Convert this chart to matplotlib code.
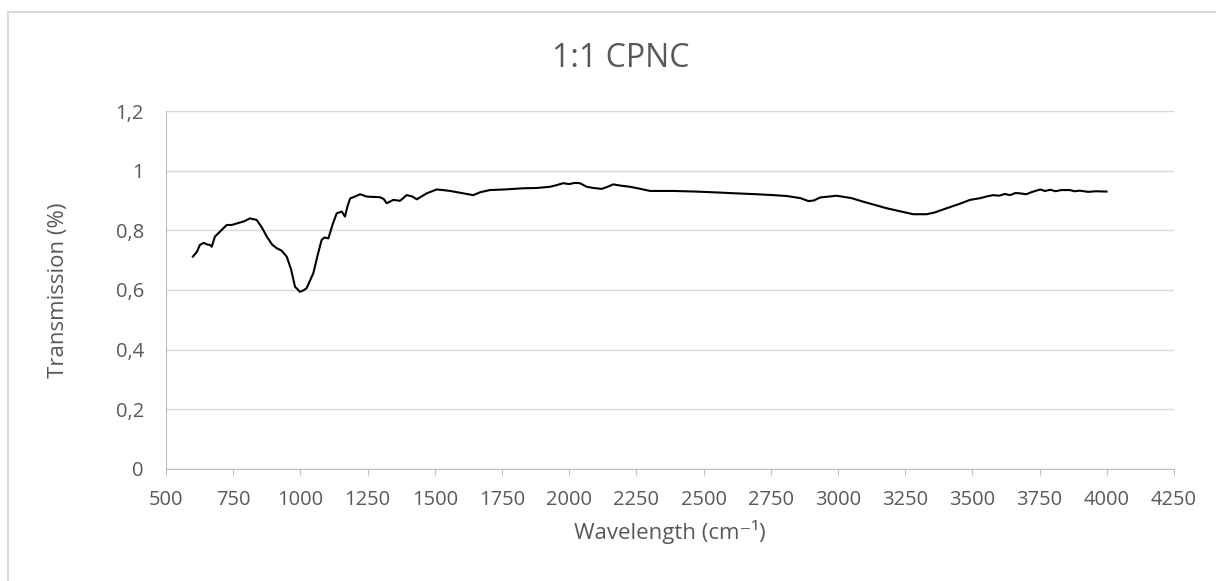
import matplotlib
matplotlib.use("Agg")
import matplotlib.pyplot as plt
from matplotlib.lines import Line2D
from matplotlib.ticker import FuncFormatter

# values
wavenumber = [600, 615, 626, 640, 655, 664, 670, 682, 700, 726, 745, 763, 790, 812, 837,
              855, 875, 895, 912, 930, 949, 965, 980, 998, 1010, 1023, 1035, 1048, 1065,
              1079, 1090, 1104, 1120, 1135, 1154, 1166, 1175, 1185, 1200, 1222, 1247,
              1296, 1310, 1321, 1346, 1371, 1395, 1415, 1433, 1470, 1507, 1530, 1557,
              1594, 1643, 1670, 1705, 1760, 1829, 1880, 1929, 1955, 1978, 2000, 2020,
              2040, 2065, 2090, 2121, 2140, 2164, 2190, 2226, 2260, 2301, 2387, 2470,
              2549, 2620, 2698, 2760, 2809, 2860, 2890, 2910, 2933, 2995, 3050, 3094,
              3181, 3240, 3280, 3330, 3360, 3404, 3450, 3491, 3530, 3555, 3578, 3600,
              3620, 3640, 3660, 3677, 3700, 3720, 3752, 3770, 3790, 3810, 3830, 3863,
              3880, 3900, 3930, 3960, 3999]
transmission = [0.712, 0.728, 0.751, 0.758, 0.752, 0.751, 0.745, 0.779, 0.795, 0.818, 0.818,
                0.823, 0.830, 0.840, 0.835, 0.812, 0.779, 0.752, 0.740, 0.732, 0.712,
                0.670, 0.611, 0.594, 0.598, 0.606, 0.630, 0.656, 0.720, 0.768, 0.776,
                0.773, 0.820, 0.857, 0.863, 0.846, 0.880, 0.907, 0.912, 0.921, 0.913,
                0.911, 0.905, 0.891, 0.902, 0.899, 0.918, 0.914, 0.904, 0.924, 0.937,
                0.935, 0.932, 0.926, 0.918, 0.928, 0.935, 0.937, 0.941, 0.942, 0.946,
                0.952, 0.958, 0.955, 0.959, 0.958, 0.946, 0.942, 0.939, 0.945, 0.954,
                0.950, 0.946, 0.940, 0.932, 0.932, 0.930, 0.927, 0.924, 0.921, 0.918,
                0.915, 0.908, 0.898, 0.900, 0.910, 0.916, 0.908, 0.896, 0.874, 0.862,
                0.854, 0.854, 0.860, 0.874, 0.888, 0.902, 0.908, 0.914, 0.918, 0.916,
                0.922, 0.918, 0.925, 0.924, 0.921, 0.928, 0.937, 0.932, 0.936, 0.931,
                0.935, 0.935, 0.931, 0.933, 0.929, 0.931, 0.930]

title = "1:1 CPNC"
x_ticks = list(range(500, 4251, 250))
y_ticks = [0, 0.2, 0.4, 0.6, 0.8, 1.0, 1.2]

plt.rcParams['font.family'] = ['Open Sans', 'DejaVu Sans']
grey = "#595959"

W, H = 1216, 581
fig = plt.figure(figsize=(W / 100, H / 100), dpi=100)
# axes box: x 166..1174 px, y 111..469 px
ax = fig.add_axes([166 / W, 1 - 469 / H, 1008 / W, 358 / H])

ax.plot(wavenumber, transmission, color="black", lw=1.5)

ax.set_xlim(500, 4250)
ax.set_ylim(0, 1.2)
ax.set_xticks(x_ticks)
ax.set_yticks(y_ticks)
ax.yaxis.set_major_formatter(FuncFormatter(lambda v, p: ("%g" % round(v, 1)).replace(".", ",")))

ax.grid(axis="y", color="#d9d9d9", lw=1)
ax.set_axisbelow(True)
for s in ["top", "right"]:
    ax.spines[s].set_visible(False)
ax.spines["bottom"].set_color("#bfbfbf")
ax.spines["left"].set_color("#bfbfbf")
ax.tick_params(axis="x", colors="#bfbfbf", labelcolor=grey, labelsize=14.5, length=4.3, pad=11)
ax.tick_params(axis="y", length=0, labelcolor=grey, labelsize=14.5, pad=16)

fig.text(621 / W, 1 - 67 / H, title, fontsize=23, color=grey, ha="center", va="baseline")
fig.text(670 / W, 1 - 539 / H, "Wavelength (cm\u207b\u00b9)", fontsize=16, color=grey,
         ha="center", va="baseline")
fig.text(48 / W, 1 - 290 / H, "Transmission (%)", fontsize=16, color=grey,
         ha="left", va="center", rotation=90)

# outer chart frame (right and bottom edges fall outside the picture)
fig.add_artist(Line2D([8 / W, 8 / W], [0, 1 - 12 / H], color="#d9d9d9", lw=1.5))
fig.add_artist(Line2D([8 / W, 1], [1 - 12 / H, 1 - 12 / H], color="#d9d9d9", lw=1.5))

fig.savefig("out.png", dpi=100)
